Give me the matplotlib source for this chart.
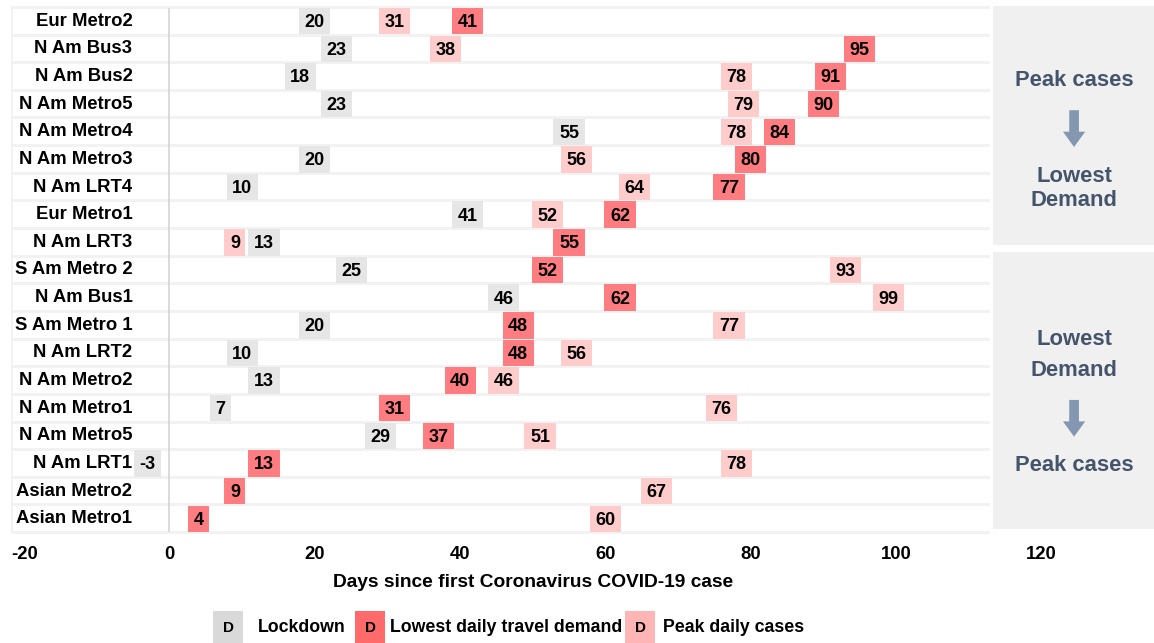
import matplotlib
matplotlib.use("Agg")
import matplotlib.pyplot as plt
import numpy as np

plt.rcParams["font.family"] = ["Liberation Sans", "DejaVu Sans"]
plt.rcParams["font.weight"] = "bold"

# ---- data ----
systems = ["Eur Metro2", "N Am Bus3", "N Am Bus2", "N Am Metro5", "N Am Metro4",
           "N Am Metro3", "N Am LRT4", "Eur Metro1", "N Am LRT3", "S Am Metro 2",
           "N Am Bus1", "S Am Metro 1", "N Am LRT2", "N Am Metro2", "N Am Metro1",
           "N Am Metro5", "N Am LRT1", "Asian Metro2", "Asian Metro1"]
lockdown = [20, 23, 18, 23, 55, 20, 10, 41, 13, 25, 46, 20, 10, 13, 7, 29, -3, None, None]
lowest_demand = [41, 95, 91, 90, 84, 80, 77, 62, 55, 52, 62, 48, 48, 40, 31, 37, 13, 9, 4]
peak_cases = [31, 38, 78, 79, 78, 56, 64, 52, 9, 93, 99, 77, 56, 46, 76, 51, 78, 67, 60]
xticks = [-20, 0, 20, 40, 60, 80, 100, 120]

# ---- style ----
C_LOCK = "#e6e6e6"
C_LOW = "#ff7c80"
C_PEAK = "#ffcccc"
LEG_LOCK = "#d9d9d9"
LEG_LOW = "#ff6b6b"
LEG_PEAK = "#ffb5b5"
C_GAP = "#f2f2f2"
C_PANEL = "#f0f0f0"
C_PANEL_TXT = "#44546a"
C_ARROW = "#8497b0"

W, H = 1154, 643
PX_PER_DAY = 7.266
X0_PX = 169.5
XMIN, XMAX = -21.8, 135.5
left_px = X0_PX + XMIN * PX_PER_DAY
fig = plt.figure(figsize=(W / 100, H / 100), dpi=100)
ax = fig.add_axes([left_px / W, 1 - 534 / H, (W - left_px) / W, (534 - 6) / H])
ax.set_xlim(XMIN, XMAX)
n = len(systems)
ax.set_ylim(n - 0.5 + 0.05, -0.5 - 0.05)
ax.axis("off")

ROW_START = -21.5
ROW_END = 112.9
ys = np.arange(n)

# row bands: grey backdrop with white stripes
ax.barh((n - 1) / 2, ROW_END - XMIN, left=XMIN, height=n + 0.1, color=C_GAP, zorder=0)
ax.barh(ys, ROW_END - ROW_START, left=ROW_START, height=0.89, color="white", zorder=1)
ax.plot([0, 0], [-0.45, n - 0.55], color="#d4d4d4", lw=1.2, zorder=1.5)

# system names
for y, name in zip(ys, systems):
    ax.text(-5.1, y, name, ha="right", va="center", fontsize=13.3, fontweight="bold", zorder=3)


def box_width(label):
    if label.startswith("-"):
        return 3.7
    return {1: 2.9, 2: 4.3}.get(len(label), 4.3)


def draw_boxes(values, color):
    for y, v in zip(ys, values):
        if v is None:
            continue
        lab = str(v)
        w = box_width(lab)
        ax.barh(y, w, left=v - w / 2, height=0.96, color=color, zorder=2)
        ax.text(v, y + 0.05, lab, ha="center", va="center", fontsize=13,
                fontweight="bold", zorder=4)


draw_boxes(lockdown, C_LOCK)
draw_boxes(peak_cases, C_PEAK)
draw_boxes(lowest_demand, C_LOW)

# side panels
PANEL_L = 113.3
ax.barh((-0.58 + 8.08) / 2, XMAX - PANEL_L, left=PANEL_L, height=8.08 + 0.58,
        color=C_PANEL, zorder=1)
ax.barh((8.35 + 18.36) / 2, XMAX - PANEL_L, left=PANEL_L, height=18.36 - 8.35,
        color=C_PANEL, zorder=1)
pc = 124.5
ptxt = dict(ha="center", va="center", fontsize=15.8, fontweight="bold",
            color=C_PANEL_TXT, zorder=3)
ax.text(pc, 2.13, "Peak cases", **ptxt)
ax.text(pc, 5.6, "Lowest", **ptxt)
ax.text(pc, 6.5, "Demand", **ptxt)
ax.text(pc, 11.5, "Lowest", **ptxt)
ax.text(pc, 12.65, "Demand", **ptxt)
ax.text(pc, 16.08, "Peak cases", **ptxt)
arrow = dict(arrowstyle="simple,head_width=0.8,head_length=0.55,tail_width=0.35",
             color=C_ARROW, lw=0, shrinkA=0, shrinkB=0, mutation_scale=20)
ax.annotate("", xy=(pc, 4.55), xytext=(pc, 3.22), arrowprops=arrow, zorder=3)
ax.annotate("", xy=(pc, 15.03), xytext=(pc, 13.7), arrowprops=arrow, zorder=3)

# x tick labels and axis title
for t in xticks:
    ax.text(t, 19.3, str(t), ha="center", va="center", fontsize=13.3,
            fontweight="bold", clip_on=False)
ax.text(50, 20.3, "Days since first Coronavirus COVID-19 case", ha="center",
        va="center", fontsize=13.8, fontweight="bold", clip_on=False)

# legend
legend_items = [("Lockdown", LEG_LOCK, 228, 258),
                ("Lowest daily travel demand", LEG_LOW, 370, 390),
                ("Peak daily cases", LEG_PEAK, 640, 663)]
for label, color, sx, tx in legend_items:
    fig.text(sx / W, 1 - 628 / H, "D", ha="center", va="center", fontsize=11,
             fontweight="bold",
             bbox=dict(boxstyle="square,pad=0.65", fc=color, ec="none"))
    fig.text(tx / W, 1 - 628 / H, label, ha="left", va="center", fontsize=12.8,
             fontweight="bold")

fig.savefig("out.png", dpi=100)
